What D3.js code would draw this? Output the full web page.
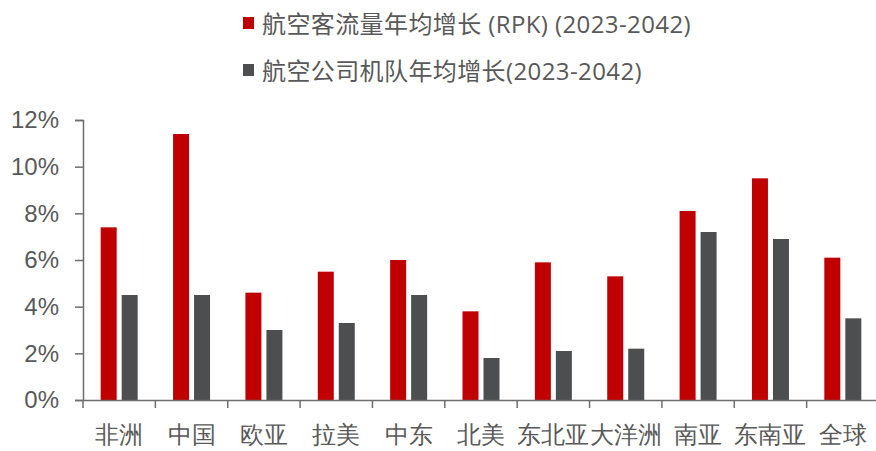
<!DOCTYPE html>
<html>
<head>
<meta charset="utf-8">
<script src="https://cdn.jsdelivr.net/npm/d3@7"></script>
<style>
  html, body { margin: 0; padding: 0; background: #fff; }
  svg { display: block; font-family: "Open Sans", "Noto Sans CJK SC", sans-serif; }
</style>
</head>
<body>
<svg id="chart" width="876" height="451"></svg>
<script>
// Regions and annual growth rates (%), 2023-2042
const regions = ["非洲", "中国", "欧亚", "拉美", "中东", "北美", "东北亚", "大洋洲", "南亚", "东南亚", "全球"];
const rpkGrowth = [7.4, 11.4, 4.6, 5.5, 6.0, 3.8, 5.9, 5.3, 8.1, 9.5, 6.1];
const fleetGrowth = [4.5, 4.5, 3.0, 3.3, 4.5, 1.8, 2.1, 2.2, 7.2, 6.9, 3.5];
const seriesNames = ["航空客流量年均增长 (RPK) (2023-2042)", "航空公司机队年均增长(2023-2042)"];
const yTicks = [0, 2, 4, 6, 8, 10, 12];

const colors = ["#c00000", "#4d4e50"];
const axisColor = "#6e6e6e";
const textColor = "#595959";

const svg = d3.select("#chart");
const plot = { left: 83, right: 879, top: 120, bottom: 400 };

const x = d3.scaleBand().domain(regions).range([plot.left, plot.right]).paddingInner(0).paddingOuter(0);
const y = d3.scaleLinear().domain([0, 12]).range([plot.bottom, plot.top]);

const barW = 16, gap = 5;
const groupW = barW * 2 + gap;

const series = [rpkGrowth, fleetGrowth];
series.forEach((vals, si) => {
  svg.append("g").selectAll("rect")
    .data(vals)
    .join("rect")
    .attr("x", (d, i) => x(regions[i]) + (x.bandwidth() - groupW) / 2 + si * (barW + gap))
    .attr("y", d => y(d))
    .attr("width", barW)
    .attr("height", d => y(0) - y(d))
    .attr("fill", colors[si]);
});

// Y axis
const yAxis = svg.append("g")
  .attr("transform", `translate(${plot.left},0)`)
  .call(d3.axisLeft(y).tickValues(yTicks).tickFormat(d => d + "%").tickSize(8).tickPadding(16));
yAxis.select(".domain").attr("stroke", axisColor).attr("stroke-width", 1.5);
yAxis.selectAll(".tick line").attr("stroke", axisColor).attr("stroke-width", 1.5);
yAxis.selectAll(".tick text").attr("fill", textColor).style("font-size", "24px");

// X axis
const xAxis = svg.append("g")
  .attr("transform", `translate(0,${plot.bottom})`)
  .call(d3.axisBottom(x).tickSize(0).tickPadding(26));
xAxis.select(".domain").attr("stroke", axisColor).attr("stroke-width", 1.5);
xAxis.selectAll(".tick text").attr("fill", textColor).style("font-size", "24px");

// Category separators on the x axis
svg.append("g").selectAll("line")
  .data(regions)
  .join("line")
  .attr("x1", d => x(d)).attr("x2", d => x(d))
  .attr("y1", plot.bottom).attr("y2", plot.bottom + 8)
  .attr("stroke", axisColor).attr("stroke-width", 1.5);

// Legend
const legend = svg.append("g");
seriesNames.forEach((name, i) => {
  const ly = 23 + i * 47;
  legend.append("rect")
    .attr("x", 243).attr("y", ly - 6).attr("width", 11).attr("height", 12)
    .attr("fill", colors[i]);
  legend.append("text")
    .attr("x", 262).attr("y", ly)
    .attr("dominant-baseline", "central")
    .attr("fill", textColor)
    .style("font-size", "24px")
    .style("letter-spacing", "0.4px")
    .text(name);
});
</script>
</body>
</html>
